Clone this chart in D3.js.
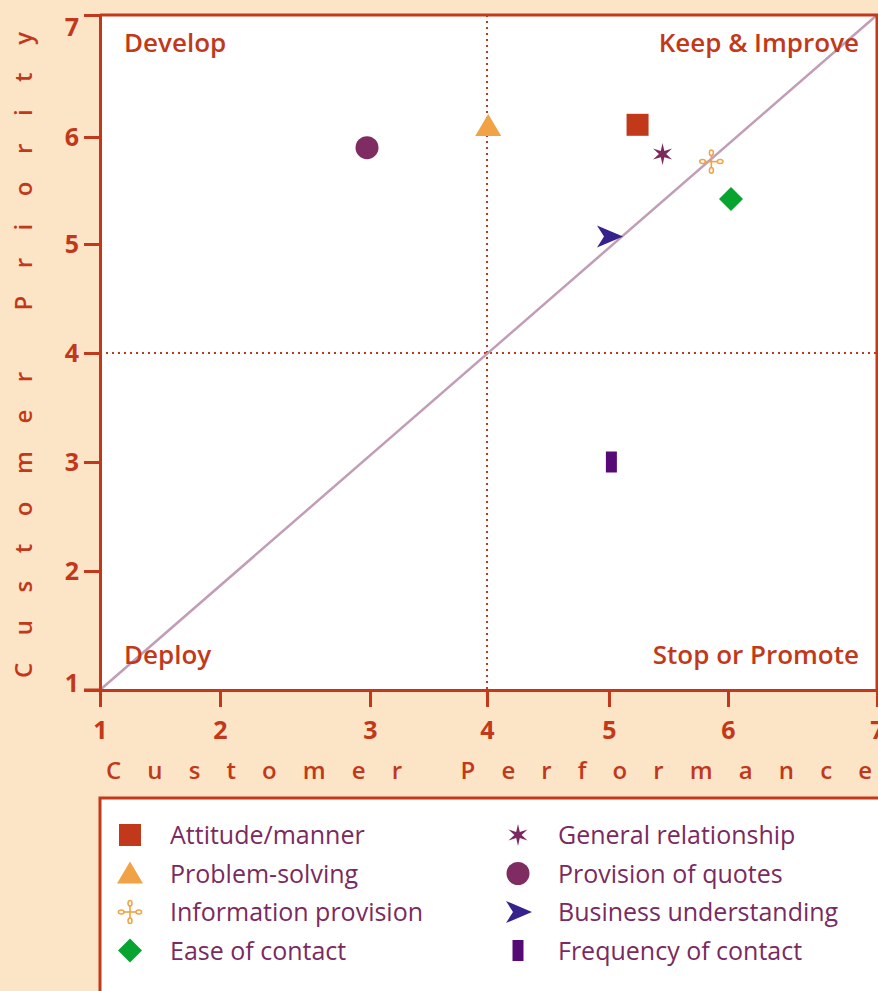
<!DOCTYPE html>
<html>
<head>
<meta charset="utf-8">
<script src="https://cdn.jsdelivr.net/npm/d3@7"></script>
<style>
  html, body { margin: 0; padding: 0; background: #fce4c7; }
  svg { display: block; }
  text { font-family: "Open Sans", "DejaVu Sans", sans-serif; }
</style>
</head>
<body>
<svg id="chart" width="878" height="991"></svg>
<script>
// Attribute names, in legend order (left column then right column)
const attributes = [
  "Attitude/manner", "Problem-solving", "Information provision", "Ease of contact",
  "General relationship", "Provision of quotes", "Business understanding", "Frequency of contact"
];
// Customer performance (x) and customer priority (y) scores
const performance = [5.24, 4.01, 5.86, 6.02, 5.45, 2.98, 5.0, 5.02];
const priority    = [6.1, 6.09, 5.77, 5.42, 5.84, 5.9, 5.07, 3.0];
const symbolKinds = ["square", "triangle", "flower", "diamond", "star6", "circle", "dart", "bar"];
const symbolColors = ["#c1391a", "#f0a244", "#f0a244", "#08a431", "#7b2a5f", "#7e2c62", "#35228a", "#560a75"];

const tickValues = [1, 2, 3, 4, 5, 6, 7];
const midpoint = 4;
const quadrants = [
  { name: "Develop", px: 1, py: 7, anchor: "start" },
  { name: "Keep & Improve", px: 7, py: 7, anchor: "end" },
  { name: "Deploy", px: 1, py: 1, anchor: "start" },
  { name: "Stop or Promote", px: 7, py: 1, anchor: "end" }
];

const RED = "#c1391a";
const PURPLE = "#7b2a5f";

const svg = d3.select("#chart");

// Axis scales follow the printed tick grid of the original scorecard
const x = d3.scaleLinear().domain(tickValues).range([100, 220, 370, 487, 609, 728, 877]);
const y = d3.scaleLinear().domain(tickValues).range([690, 571, 462, 353, 244, 137, 15]);

// Plot area
svg.append("rect")
  .attr("x", x(1)).attr("y", y(7))
  .attr("width", x(7) - x(1)).attr("height", y(1) - y(7))
  .attr("fill", "#fff");

// Quadrant divider lines (dotted)
svg.append("line")
  .attr("x1", x(midpoint)).attr("x2", x(midpoint))
  .attr("y1", y(7)).attr("y2", y(1))
  .attr("stroke", RED).attr("stroke-width", 2)
  .attr("stroke-dasharray", "2 4");
svg.append("line")
  .attr("x1", x(1)).attr("x2", x(7))
  .attr("y1", y(midpoint)).attr("y2", y(midpoint))
  .attr("stroke", RED).attr("stroke-width", 2)
  .attr("stroke-dasharray", "2 4");

// Parity diagonal
svg.append("line")
  .attr("x1", x(1)).attr("y1", y(1))
  .attr("x2", x(7)).attr("y2", y(7))
  .attr("stroke", "#c29db6").attr("stroke-width", 2.5);

// Quadrant names
svg.selectAll("text.quad").data(quadrants).join("text")
  .attr("class", "quad")
  .attr("x", d => d.anchor === "start" ? x(d.px) + 24 : x(d.px) - 18)
  .attr("y", d => d.py === 7 ? y(d.py) + 37 : y(d.py) - 26)
  .attr("text-anchor", d => d.anchor)
  .attr("fill", RED)
  .attr("font-size", 26)
  .attr("font-weight", 600)
  .text(d => d.name);

// Frame: top and right borders
svg.append("path")
  .attr("d", `M${x(1)},${y(7)}H${x(7)}V${y(1)}`)
  .attr("fill", "none").attr("stroke", RED).attr("stroke-width", 3);

// Axes
const xAxis = svg.append("g")
  .attr("transform", `translate(0,${y(1)})`)
  .call(d3.axisBottom(x).tickValues(tickValues).tickFormat(d3.format("d")).tickSize(17).tickPadding(14));
const yAxis = svg.append("g")
  .attr("transform", `translate(${x(1)},0)`)
  .call(d3.axisLeft(y).tickValues(tickValues).tickFormat(d3.format("d")).tickSize(16).tickPadding(5));

[xAxis, yAxis].forEach(g => {
  g.select(".domain").attr("stroke", RED).attr("stroke-width", 3);
  g.selectAll(".tick line").attr("stroke", RED).attr("stroke-width", 3);
  g.selectAll(".tick text")
    .attr("fill", RED).attr("font-size", 25).attr("font-weight", 700);
});
// extend x baseline slightly left of the y axis
svg.append("line")
  .attr("x1", x(1) - 16).attr("x2", x(1))
  .attr("y1", y(1)).attr("y2", y(1))
  .attr("stroke", RED).attr("stroke-width", 3);
// end labels on the priority axis sit inside the frame
yAxis.selectAll(".tick text")
  .attr("dy", d => d === 7 ? "0.8em" : d === 1 ? "0.05em" : "0.35em");

// Axis titles, spread out letter by letter
svg.append("text")
  .attr("x", 106).attr("y", 779)
  .attr("textLength", 766).attr("lengthAdjust", "spacing")
  .attr("fill", RED).attr("font-size", 24).attr("font-weight", 600)
  .text("Customer Performance");
svg.append("text")
  .attr("transform", "translate(32,678) rotate(-90)")
  .attr("textLength", 646).attr("lengthAdjust", "spacing")
  .attr("fill", RED).attr("font-size", 24).attr("font-weight", 600)
  .text("Customer Priority");

// Marker shapes, drawn around the origin
function symbolPath(kind, s) {
  const p = d3.path();
  switch (kind) {
    case "square":
      p.rect(-11 * s, -11 * s, 22 * s, 22 * s); break;
    case "triangle":
      p.moveTo(0, -12 * s); p.lineTo(13 * s, 10 * s); p.lineTo(-13 * s, 10 * s); p.closePath(); break;
    case "diamond":
      p.moveTo(0, -12 * s); p.lineTo(12 * s, 0); p.lineTo(0, 12 * s); p.lineTo(-12 * s, 0); p.closePath(); break;
    case "circle":
      p.arc(0, 0, 11.5 * s, 0, 2 * Math.PI); break;
    case "bar":
      p.rect(-5.5 * s, -10.5 * s, 11 * s, 21 * s); break;
    case "dart":
      p.moveTo(14 * s, 0); p.lineTo(-12 * s, -11 * s); p.lineTo(-5 * s, 0);
      p.lineTo(-12 * s, 11 * s); p.closePath(); break;
    case "star6": {
      const pts = [];
      for (let i = 0; i < 12; i++) {
        const a = -Math.PI / 2 + i * Math.PI / 6;
        const r = (i % 2 === 0 ? 11 : 3.6) * s;
        pts.push([Math.cos(a) * r, Math.sin(a) * r]);
      }
      pts.forEach((q, i) => i ? p.lineTo(q[0], q[1]) : p.moveTo(q[0], q[1]));
      p.closePath(); break;
    }
  }
  return p.toString();
}

function drawMarker(g, kind, color, s) {
  if (kind === "flower") {
    const arms = [[0, -1], [1, 0], [0, 1], [-1, 0]];
    arms.forEach(([dx, dy]) => {
      g.append("line")
        .attr("x1", 0).attr("y1", 0)
        .attr("x2", dx * 6.5 * s).attr("y2", dy * 6.5 * s)
        .attr("stroke", color).attr("stroke-width", 1.6);
      g.append("ellipse")
        .attr("cx", dx * 8.8 * s).attr("cy", dy * 8.8 * s)
        .attr("rx", (dx ? 2.8 : 2) * s).attr("ry", (dy ? 2.8 : 2) * s)
        .attr("fill", "none").attr("stroke", color).attr("stroke-width", 1.5);
    });
  } else {
    g.append("path").attr("d", symbolPath(kind, s)).attr("fill", color);
  }
}

// Data markers
const rows = attributes.map((name, i) => ({
  name, px: performance[i], py: priority[i], kind: symbolKinds[i], color: symbolColors[i]
}));
rows.forEach(d => {
  const g = svg.append("g").attr("transform", `translate(${x(d.px)},${y(d.py)})`);
  drawMarker(g, d.kind, d.color, 1);
});

// Legend box
svg.append("rect")
  .attr("x", 100).attr("y", 798)
  .attr("width", 790).attr("height", 220)
  .attr("fill", "#fff").attr("stroke", RED).attr("stroke-width", 3);

const legend = svg.append("g");
rows.forEach((d, i) => {
  const col = Math.floor(i / 4), row = i % 4;
  const gx = col === 0 ? 130 : 518;
  const gy = 835 + row * 38.5;
  const g = legend.append("g").attr("transform", `translate(${gx},${gy})`);
  drawMarker(g, d.kind, d.color, 1);
  legend.append("text")
    .attr("x", gx + 40).attr("y", gy)
    .attr("dy", "0.36em")
    .attr("fill", PURPLE).attr("font-size", 25)
    .text(d.name);
});
</script>
</body>
</html>
